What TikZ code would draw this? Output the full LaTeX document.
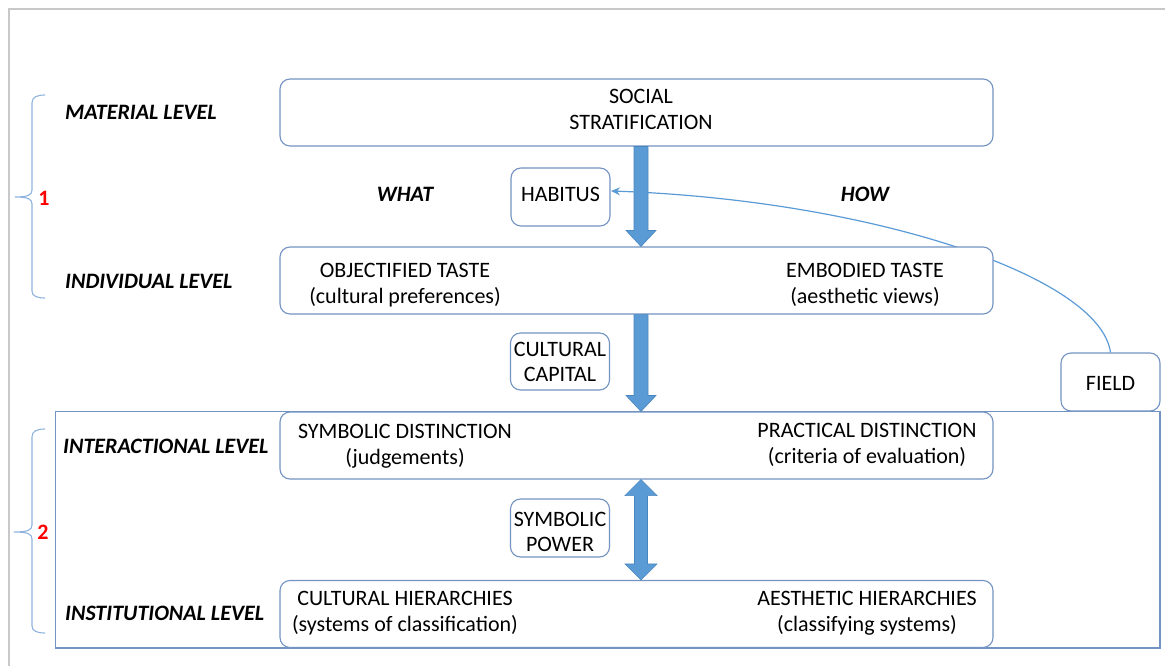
\documentclass[tikz,border=0pt]{standalone}
\usepackage{fontspec}
\setmainfont{Carlito}
\usetikzlibrary{arrows.meta,calc}
\definecolor{boxc}{HTML}{7393C2}
\definecolor{arrc}{HTML}{5B9BD5}
\definecolor{arrd}{HTML}{4A86BE}
\definecolor{bracec}{HTML}{8FB3DE}
\definecolor{framec}{HTML}{C8C8C8}
\begin{document}
\begin{tikzpicture}[x=1pt,y=-1pt,
  txt/.style={font=\fontsize{22}{26}\selectfont, inner sep=0pt, align=center, text=black},
  stxt/.style={font=\fontsize{22}{25}\selectfont, inner sep=0pt, align=center, text=black},
  lvl/.style={font=\fontsize{22}{26}\selectfont\bfseries\itshape, inner sep=0pt, anchor=west},
  bigbox/.style={draw=boxc, fill=white, line width=1.1pt, rounded corners=10pt, minimum width=713pt, minimum height=67pt, inner sep=0pt},
  smallbox/.style={draw=boxc, fill=white, line width=1.1pt, rounded corners=10pt, minimum width=99pt, minimum height=58pt, inner sep=0pt},
  fat/.style={fill=arrc, draw=arrd, line width=0.6pt},
  bracestyle/.style={draw=bracec, line width=1.1pt},
  num/.style={font=\fontsize{22}{22}\selectfont\bfseries, text=red, inner sep=0pt}
]
\useasboundingbox (0,0) rectangle (1165,666);
% page frame
\draw[framec, line width=2pt] (1165,9) -- (9,9) -- (9,666);
% big rectangle
\draw[boxc, line width=1.1pt] (55.5,411.5) rectangle (1160,648);

% FIELD box first so the connector can start at it
\node[smallbox] (field) at (1110.5,382) {};
\node[stxt] (fieldt) at (1110.5,383) {FIELD};
\coordinate (habin) at (611,191);
% curved connector FIELD -> HABITUS (drawn below the boxes)
\draw[arrc, line width=1.2pt, -{Stealth[length=9pt,width=8pt]}] (field.north) .. controls (1100,276) and (870,200) .. (habin);

% main boxes
\node[bigbox] (soc) at (636.5,112.5) {};
\node[bigbox] (ind) at (636.5,280.5) {};
\node[bigbox] (inter) at (636.5,445.5) {};
\node[bigbox] (inst) at (636.5,614) {};

% small boxes
\node[smallbox] (hab) at (560.5,197) {};
\node[smallbox, minimum height=57pt] (cc) at (560,361.5) {};
\node[smallbox] (sp) at (560,528) {};
\node[stxt] (habt) at (560.5,194) {HABITUS};
\node[stxt] (cct) at (560,361.5) {CULTURAL\\CAPITAL};
\node[stxt] (spt) at (560,532) {SYMBOLIC\\POWER};

% texts in boxes
\node[txt] (soct) at (641,109) {SOCIAL\\STRATIFICATION};
\node[txt] (objt) at (405,285) {OBJECTIFIED TASTE\\(cultural preferences)};
\node[txt] (embt) at (865,285) {EMBODIED TASTE\\(aesthetic views)};
\node[txt] (symd) at (405,446) {SYMBOLIC DISTINCTION\\(judgements)};
\node[txt] (prad) at (867,445) {PRACTICAL DISTINCTION\\(criteria of evaluation)};
\node[txt] (culh) at (405,613) {CULTURAL HIERARCHIES\\(systems of classification)};
\node[txt] (aesh) at (867,613) {AESTHETIC HIERARCHIES\\(classifying systems)};

% level labels
\node[lvl] (lmat) at (65,112) {MATERIAL LEVEL};
\node[lvl] (lind) at (65,281) {INDIVIDUAL LEVEL};
\node[lvl] (lint) at (63,446) {INTERACTIONAL LEVEL};
\node[lvl] (lins) at (65,613) {INSTITUTIONAL LEVEL};
\node[lvl, anchor=center] (what) at (405,194) {WHAT};
\node[lvl, anchor=center] (how) at (865,194) {HOW};

% fat arrows
\coordinate (a1s) at ($(soc.south)+(4.5,0)$);
\coordinate (a1e) at ($(ind.north)+(4.5,0)$);
\filldraw[fat] ($(a1s)+(-7,0)$) -- ($(a1s)+(7,0)$) -- ($(a1e)+(7,-16)$) -- ($(a1e)+(15,-16)$) -- (a1e) -- ($(a1e)+(-15,-16)$) -- ($(a1e)+(-7,-16)$) -- cycle;
\coordinate (a2s) at ($(ind.south)+(4.5,0)$);
\coordinate (a2e) at ($(inter.north)+(4.5,0)$);
\filldraw[fat] ($(a2s)+(-7,0)$) -- ($(a2s)+(7,0)$) -- ($(a2e)+(7,-16)$) -- ($(a2e)+(15,-16)$) -- (a2e) -- ($(a2e)+(-15,-16)$) -- ($(a2e)+(-7,-16)$) -- cycle;
\coordinate (a3s) at ($(inter.south)+(4.5,0)$);
\coordinate (a3e) at ($(inst.north)+(4.5,0)$);
\filldraw[fat] (a3s) -- ($(a3s)+(16,16)$) -- ($(a3s)+(6.5,16)$) -- ($(a3e)+(6.5,-16)$) -- ($(a3e)+(16,-16)$) -- (a3e) -- ($(a3e)+(-16,-16)$) -- ($(a3e)+(-6.5,-16)$) -- ($(a3s)+(-6.5,16)$) -- ($(a3s)+(-16,16)$) -- cycle;

% braces
\draw[bracestyle] (45,95) .. controls (37,95) and (32,97) .. (32,103) -- (32,190) .. controls (32,195) and (28,197) .. (15,197) .. controls (28,197) and (32,199) .. (32,204) -- (32,291) .. controls (32,296) and (37,298) .. (45,298);
\draw[bracestyle] (45,429) .. controls (37,429) and (32,431) .. (32,437) -- (32,525) .. controls (32,530) and (28,532) .. (14,532) .. controls (28,532) and (32,534) .. (32,539) -- (32,626) .. controls (32,631) and (37,633) .. (45,633);
\node[num] (n1) at (44,198) {1};
\node[num] (n2) at (43,532) {2};
\end{tikzpicture}
\end{document}
